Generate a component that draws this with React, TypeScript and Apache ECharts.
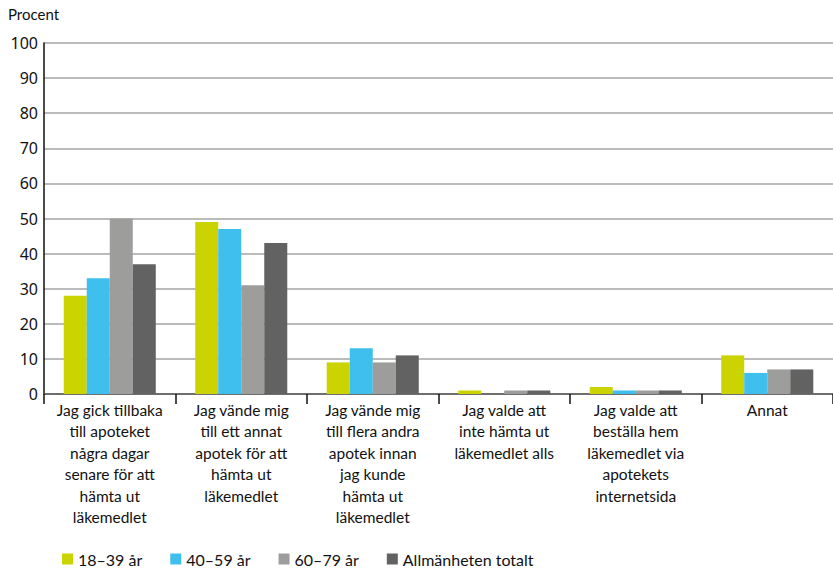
import React, { useEffect, useRef } from "react";
import * as echarts from "echarts";

const categories = [
  "Jag gick tillbaka\ntill apoteket\nnågra dagar\nsenare för att\nhämta ut\nläkemedlet",
  "Jag vände mig\ntill ett annat\napotek för att\nhämta ut\nläkemedlet",
  "Jag vände mig\ntill flera andra\napotek innan\njag kunde\nhämta ut\nläkemedlet",
  "Jag valde att\ninte hämta ut\nläkemedlet alls",
  "Jag valde att\nbeställa hem\nläkemedlet via\napotekets\ninternetsida",
  "Annat",
];

const seriesNames = ["18–39 år", "40–59 år", "60–79 år", "Allmänheten totalt"];
const values1839 = [28, 49, 9, 1, 2, 11];
const values4059 = [33, 47, 13, 0, 1, 6];
const values6079 = [50, 31, 9, 1, 1, 7];
const valuesTotal = [37, 43, 11, 1, 1, 7];
const colors = ["#cbd300", "#3fbfee", "#9d9d9c", "#626262"];

const FONT = "Lato, 'Noto Sans', sans-serif";

export default function App() {
  const ref = useRef<HTMLDivElement>(null);
  useEffect(() => {
    if (!ref.current) return;
    const chart = echarts.init(ref.current, undefined, { renderer: "svg" });
    const data = [values1839, values4059, values6079, valuesTotal];
    chart.setOption({
      animation: false,
      textStyle: { fontFamily: FONT },
      graphic: [
        {
          type: "text",
          left: 8,
          top: 6,
          style: { text: "Procent", fontSize: 15, fill: "#111", fontFamily: FONT },
        },
      ],
      legend: {
        left: 57,
        top: 546,
        padding: [5, 5, 5, 5],
        itemWidth: 11,
        itemHeight: 11,
        itemGap: 28,
        icon: "rect",
        textStyle: { fontSize: 16, color: "#111", fontFamily: FONT },
        data: seriesNames,
      },
      grid: { left: 44, right: -7, top: 43, bottom: 178, containLabel: false },
      xAxis: {
        type: "category",
        data: categories,
        axisLine: { lineStyle: { color: "#555", width: 1.5 } },
        axisTick: { show: true, length: 10, lineStyle: { color: "#111", width: 1.5 } },
        axisLabel: {
          interval: 0,
          fontSize: 15.5,
          lineHeight: 21.5,
          color: "#111",
          margin: 5,
          fontFamily: FONT,
        },
      },
      yAxis: {
        type: "value",
        min: 0,
        max: 100,
        interval: 10,
        axisLine: { show: true, lineStyle: { color: "#111", width: 1.5 } },
        axisTick: { show: false },
        splitLine: { lineStyle: { color: "#a5a5a5", width: 1.5 } },
        axisLabel: { fontSize: 16, color: "#111", margin: 6, fontFamily: "'Noto Sans', Lato, sans-serif" },
      },
      series: seriesNames.map((name, i) => ({
        name,
        type: "bar",
        data: data[i],
        barGap: "0%",
        barCategoryGap: "30%",
        itemStyle: { color: colors[i] },
      })),
    });
    return () => chart.dispose();
  }, []);
  return (
    <div
      ref={ref}
      style={{ position: "absolute", left: 0, top: 0, width: 833, height: 572, background: "#fff" }}
    />
  );
}
